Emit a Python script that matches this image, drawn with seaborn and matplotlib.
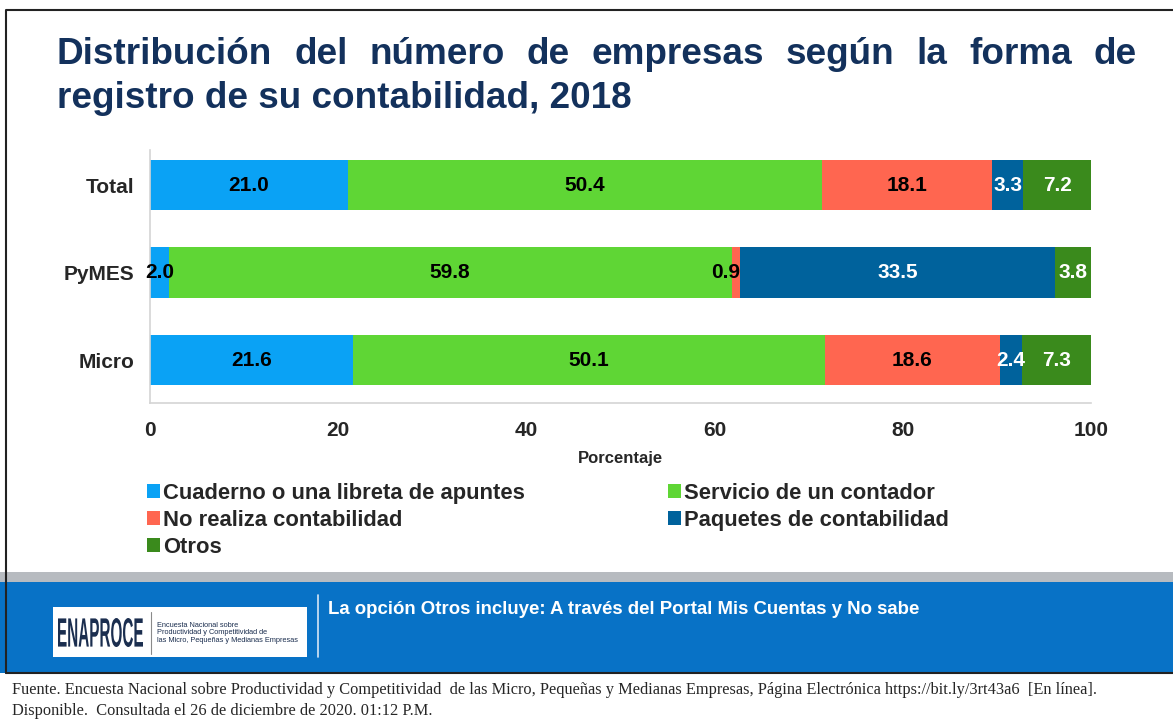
import matplotlib
matplotlib.use("Agg")
import matplotlib.pyplot as plt
import numpy as np
import pandas as pd
import seaborn as sns
from matplotlib.font_manager import FontProperties
from matplotlib.lines import Line2D
from matplotlib.patches import Patch, PathPatch, Rectangle
from matplotlib.textpath import TextPath
from matplotlib.transforms import Affine2D

# data
CATEGORIES = ["Total", "PyMES", "Micro"]
CUADERNO = [21.0, 2.0, 21.6]
CONTADOR = [50.4, 59.8, 50.1]
NO_REALIZA = [18.1, 0.9, 18.6]
PAQUETES = [3.3, 33.5, 2.4]
OTROS = [7.2, 3.8, 7.3]

SERIES = [
    ("Cuaderno o una libreta de apuntes", CUADERNO, "#0AA2F5", "black"),
    ("Servicio de un contador", CONTADOR, "#5FD635", "black"),
    ("No realiza contabilidad", NO_REALIZA, "#FF6650", "black"),
    ("Paquetes de contabilidad", PAQUETES, "#00629C", "white"),
    ("Otros", OTROS, "#3A8A1C", "white"),
]

TITLE_1 = "Distribución del número de empresas según la forma de"
TITLE_2 = "registro de su contabilidad, 2018"
NOTE = "La opción Otros incluye: A través del Portal Mis Cuentas y No sabe"
FUENTE_1 = ("Fuente. Encuesta Nacional sobre Productividad y Competitividad  de las Micro, "
            "Pequeñas y Medianas Empresas, Página Electrónica https://bit.ly/3rt43a6  [En línea].")
FUENTE_2 = "Disponible.  Consultada el 26 de diciembre de 2020. 01:12 P.M."

sns.set_style("white")
plt.rcParams["font.family"] = ["Liberation Sans", "DejaVu Sans"]

W, H = 1173, 719
fig = plt.figure(figsize=(W / 100, H / 100), dpi=100)
fig.patch.set_facecolor("white")


def fx(px):
    return px / W


def fy(py):
    return 1 - py / H


ax = fig.add_axes([fx(150), fy(403), fx(1091) - fx(150), fy(150) - fy(403)])

df = pd.DataFrame({"categoria": CATEGORIES})
cum = np.zeros(len(CATEGORIES))
starts = []
for name, vals, color, _ in SERIES:
    starts.append(cum.copy())
    cum = cum + np.array(vals)
    df[name] = cum

# stacked bars: draw cumulative totals from the last series to the first
for (name, vals, color, _), start in reversed(list(zip(SERIES, starts))):
    sns.barplot(data=df, y="categoria", x=name, color=color, orient="h",
                width=0.58, ax=ax, saturation=1, edgecolor="none", order=CATEGORIES)

for (name, vals, color, tcolor), start in zip(SERIES, starts):
    for i, v in enumerate(vals):
        if v < 1.5 and start[i] > 10:
            ax.text(start[i] + v, i, f"{v:.1f}", ha="right", va="center",
                    color=tcolor, fontsize=15, fontweight="bold")
        else:
            ax.text(start[i] + v / 2, i, f"{v:.1f}", ha="center", va="center",
                    color=tcolor, fontsize=15, fontweight="bold")

ax.set_xlim(0, 100)
ax.set_ylim(2.49, -0.4)
ax.set_xticks([0, 20, 40, 60, 80, 100])
ax.set_ylabel("")
ax.set_xlabel("Porcentaje", fontsize=12, fontweight="bold", labelpad=8)
ax.tick_params(axis="x", length=0, pad=13, labelsize=15)
ax.tick_params(axis="y", length=0, pad=11, labelsize=15)
for lab in ax.get_xticklabels() + ax.get_yticklabels():
    lab.set_fontweight("bold")
for side in ["top", "right"]:
    ax.spines[side].set_visible(False)
for side in ["left", "bottom"]:
    ax.spines[side].set_color("#D4D4D4")
    ax.spines[side].set_linewidth(1.2)

# legend, row-major in the reference
order = [0, 2, 4, 1, 3]
handles = [Patch(facecolor=SERIES[k][2], edgecolor="none") for k in order]
labels = [SERIES[k][0] for k in order]
fig.legend(handles, labels, loc="upper left", bbox_to_anchor=(fx(147), fy(483)),
           ncol=2, frameon=False, prop={"size": 15.8, "weight": "bold"},
           handlelength=0.6, handleheight=0.6, handletextpad=0.15,
           columnspacing=6.5, labelspacing=0.27, borderpad=0, borderaxespad=0)

# title, first line justified
title_kw = dict(fontsize=26.6, fontweight="bold", color="#13315C", va="baseline")
words = TITLE_1.split()
word_texts = [fig.text(0, fy(64), w, **title_kw) for w in words]
renderer = fig.canvas.get_renderer()
widths = [t.get_window_extent(renderer).width for t in word_texts]
gap = (1137 - 57 - sum(widths)) / (len(words) - 1)
xpos = 57
for t, w in zip(word_texts, widths):
    t.set_x(fx(xpos))
    xpos += w + gap
fig.text(fx(57), fy(108), TITLE_2, **title_kw)

# frame and banner
fig.patches.append(Rectangle((fx(0), fy(582)), 1, fy(572) - fy(582),
                             transform=fig.transFigure, facecolor="#B7BBC0", edgecolor="none"))
fig.patches.append(Rectangle((fx(0), fy(673)), 1, fy(582) - fy(673),
                             transform=fig.transFigure, facecolor="#0872C6", edgecolor="none"))
fig.lines.append(Line2D([fx(6), fx(6), 1], [fy(673), fy(10), fy(10)],
                        transform=fig.transFigure, color="#222222", lw=1.5))
fig.lines.append(Line2D([fx(6), 1], [fy(673), fy(673)],
                        transform=fig.transFigure, color="#222222", lw=1.5))

# logo: condensed wordmark drawn as a squeezed text path
fig.patches.append(Rectangle((fx(53), fy(657)), fx(307) - fx(53), fy(607) - fy(657),
                             transform=fig.transFigure, facecolor="white", edgecolor="none"))
tp = TextPath((0, 0), "ENAPROCE", size=1,
              prop=FontProperties(family="Liberation Sans", weight="bold"))
bb = tp.get_extents()
logo_tr = (Affine2D().translate(-bb.x0, -bb.y0)
           .scale(85 / bb.width, 29 / bb.height)
           .translate(58, H - 647).scale(1 / 100) + fig.dpi_scale_trans)
fig.patches.append(PathPatch(tp, transform=logo_tr, facecolor="#1B2E4F", edgecolor="none"))
fig.lines.append(Line2D([fx(151), fx(151)], [fy(612), fy(654)],
                        transform=fig.transFigure, color="#8A8A8A", lw=0.8))
fig.text(fx(157), fy(633), "Encuesta Nacional sobre\nProductividad y Competitividad de\n"
         "las Micro, Pequeñas y Medianas Empresas", fontsize=5.3, color="#1B2E4F",
         va="center", ha="left", linespacing=1.1)
fig.lines.append(Line2D([fx(318), fx(318)], [fy(595), fy(657)],
                        transform=fig.transFigure, color="#D6E6F5", lw=1.2))
fig.text(fx(328), fy(609), NOTE, fontsize=13.4, fontweight="bold", color="white",
         va="center", ha="left")

# source note
serif = ["Liberation Serif", "DejaVu Serif"]
fig.text(fx(12), fy(690), FUENTE_1, fontsize=11.8, family=serif, va="center", ha="left")
fig.text(fx(12), fy(711), FUENTE_2, fontsize=11.8, family=serif, va="center", ha="left")

fig.savefig("out.png", dpi=100, facecolor="white")
